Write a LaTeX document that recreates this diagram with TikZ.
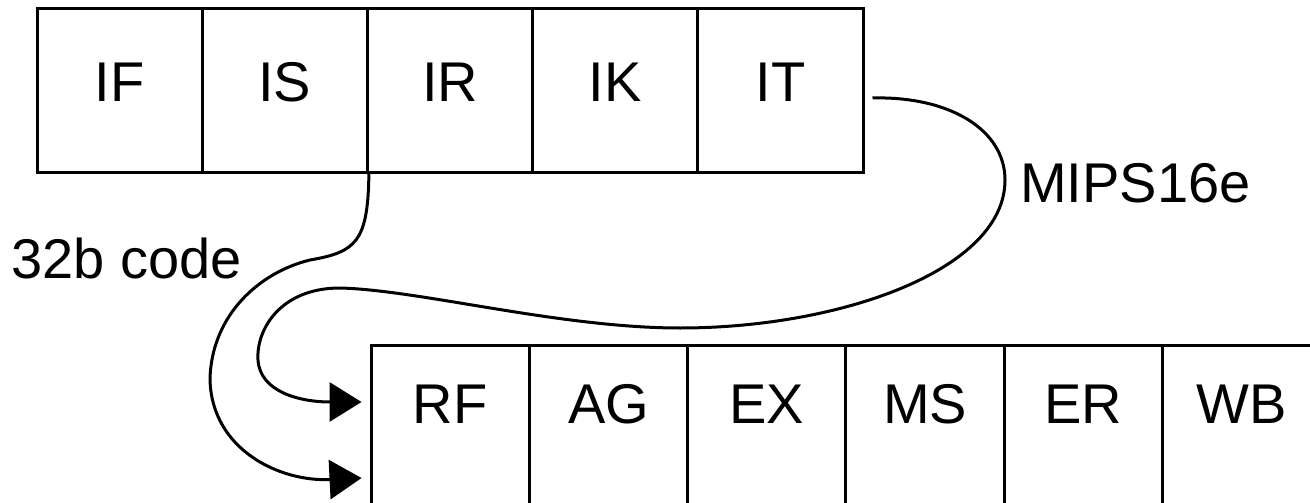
\documentclass[tikz,border=0pt]{standalone}
\usepackage{fontspec}
\setmainfont{Liberation Sans}
\usetikzlibrary{arrows.meta,calc}
\begin{document}
\begin{tikzpicture}[x=1pt,y=-1pt,
  cellT/.style={draw,line width=3pt,minimum width=165.2pt,minimum height=163pt,inner sep=0pt,
    text height=40pt,text depth=19pt,font=\fontsize{56}{60}\selectfont},
  cellB/.style={draw,line width=3pt,minimum width=158.3pt,minimum height=163pt,inner sep=0pt,
    text height=40pt,text depth=47pt,font=\fontsize{56}{60}\selectfont},
  lbl/.style={inner sep=0pt,anchor=base west,font=\fontsize{56}{60}\selectfont},
  flow/.style={line width=3pt,-{Triangle[length=32pt,width=39pt]}}]
\useasboundingbox (0,0) rectangle (1310,503);
\clip (0,0) rectangle (1310,503);
% top row
\node[cellT] (IF) at (119.6,90.5) {IF};
\node[cellT] (IS) at (284.8,90.5) {IS};
\node[cellT] (IR) at (450.0,90.5) {IR};
\node[cellT] (IK) at (615.2,90.5) {IK};
\node[cellT] (IT) at (780.4,90.5) {IT};
% bottom row
\node[cellB] (RF) at (450.2,426.5) {RF};
\node[cellB] (AG) at (608.5,426.5) {AG};
\node[cellB] (EX) at (766.8,426.5) {EX};
\node[cellB] (MS) at (925.1,426.5) {MS};
\node[cellB] (ER) at (1083.4,426.5) {ER};
\node[cellB] (WB) at (1241.7,426.5) {WB};
% labels
\node[lbl] (mips) at (1020,202) {MIPS16e};
\node[lbl] (code) at (11,278) {32b code};
% connector end points
\coordinate (aStart) at ($(IT.east)+(8,7.5)$);
\coordinate (aEnd) at ($(RF.west)+(-8,-24.5)$);
\coordinate (bEnd) at ($(RF.west)+(-8,51.5)$);
% MIPS16e path
\draw[flow] (aStart) .. controls (950,96) and (1005,130) .. (1005,180)
  .. controls (1005,270) and (840,328) .. (680,328)
  .. controls (560,328) and (420,290) .. (340,288)
  .. controls (280,288) and (256,330) .. (258,360)
  .. controls (260,392) and (300,402) .. (aEnd);
% 32b code path
\draw[flow] (IS.south east) .. controls (368,242) and (356,252) .. (310,260)
  .. controls (260,272) and (211,315) .. (210,380)
  .. controls (212,450) and (280,482) .. (bEnd);
\end{tikzpicture}
\end{document}
